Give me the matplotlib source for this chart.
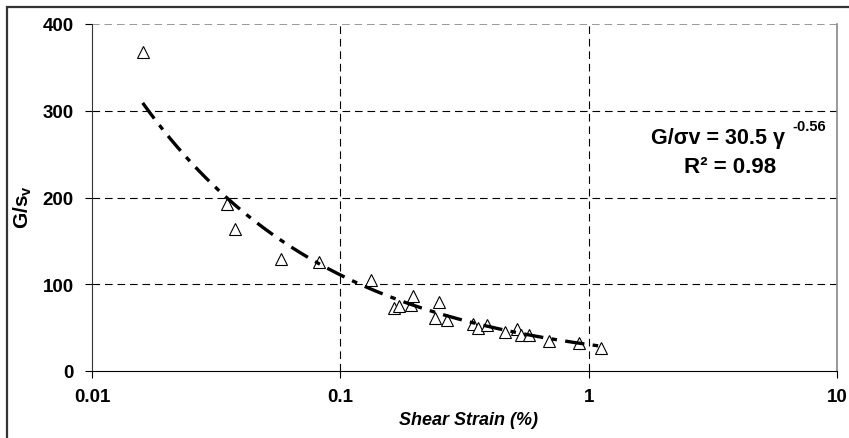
import matplotlib
matplotlib.use('Agg')
import matplotlib.pyplot as plt
import numpy as np

plt.rcParams['font.family'] = ['Liberation Sans', 'DejaVu Sans']
plt.rcParams['lines.scale_dashes'] = False
plt.rcParams['mathtext.fontset'] = 'custom'
plt.rcParams['mathtext.bf'] = 'Liberation Sans:bold'
plt.rcParams['mathtext.rm'] = 'Liberation Sans:bold'

# measured points (shear strain %, G/sigma_v)
strain = [0.016, 0.035, 0.0378, 0.0577, 0.082, 0.1334, 0.164, 0.1727, 0.193,
          0.197, 0.25, 0.2406, 0.268, 0.343, 0.359, 0.391, 0.462, 0.514,
          0.535, 0.573, 0.695, 0.918, 1.12]
g_ratio = [368, 192, 164, 129, 126, 105, 73, 75, 76,
           86, 79, 61, 59, 54, 50, 53, 45, 48,
           41, 41, 35, 32, 27]

# power fit G/sv = 30.5 * gamma^-0.56
fit_a = 30.5
fit_b = -0.56
fit_range = [0.016, 1.15]

fig = plt.figure(figsize=(8.49, 4.39), dpi=100)
ax = fig.add_axes([92/849, 1 - 372/439, 745/849, 347/439])

# outer chart border (right/bottom fall outside the image)
fig.patches.append(plt.Rectangle((7/849, -0.05), 1.05, 1 - 8/439 + 0.05,
                                 transform=fig.transFigure, fill=False,
                                 edgecolor='#333333', linewidth=1.6))

ax.set_xscale('log')
ax.set_xlim(0.01, 10)
ax.set_ylim(0, 400)

for xv in [0.1, 1]:
    ax.axvline(xv, color='black', linewidth=0.8, dashes=(5.5, 3.5), zorder=1)
for yv in [100, 200, 300]:
    ax.axhline(yv, color='black', linewidth=0.8, dashes=(5.5, 3.5), zorder=1)
ax.axhline(400, color='#888888', linewidth=1.2, dashes=(5.5, 3.5), zorder=1)

xf = np.geomspace(fit_range[0], fit_range[1], 200)
ax.plot(xf, fit_a * xf ** fit_b, color='black', linewidth=2.4,
        dashes=(14, 6, 4, 6), zorder=4)

ax.plot(strain, g_ratio, linestyle='none', marker='^', markersize=9,
        markerfacecolor='white', markeredgecolor='black',
        markeredgewidth=0.8, zorder=3)

ax.set_xticks([0.01, 0.1, 1, 10])
ax.set_xticklabels(['0.01', '0.1', '1', '10'])
ax.minorticks_off()
ax.set_yticks([0, 100, 200, 300, 400])
ax.tick_params(axis='both', direction='out', length=5, width=0.8,
               labelsize=13.5, pad=8)
ax.tick_params(axis='x', pad=7)
for lab in ax.get_xticklabels() + ax.get_yticklabels():
    lab.set_fontweight('bold')

ax.spines['top'].set_visible(False)
ax.spines['right'].set_color('#888888')
ax.spines['right'].set_linewidth(1.2)
ax.spines['left'].set_color('#333333')

ax.text(0.505, -0.141, 'Shear Strain (%)', transform=ax.transAxes,
        fontsize=13, fontweight='bold', fontstyle='italic',
        ha='center', va='center')
ax.text(-0.093, 0.475, r'$\mathbf{G/s_v}$', transform=ax.transAxes,
        rotation=90, fontsize=15, ha='center', va='center')

ax.text(0.930, 0.673, 'G/\u03c3v = 30.5 \u03b3', transform=ax.transAxes,
        fontsize=15.5, fontweight='bold', ha='right', va='center')
ax.text(0.9396, 0.705, '-0.56', transform=ax.transAxes,
        fontsize=10.5, fontweight='bold', ha='left', va='center')
ax.text(0.856, 0.59, 'R\u00b2 = 0.98', transform=ax.transAxes,
        fontsize=16, fontweight='bold', ha='center', va='center')

fig.savefig('out.png', dpi=100)
